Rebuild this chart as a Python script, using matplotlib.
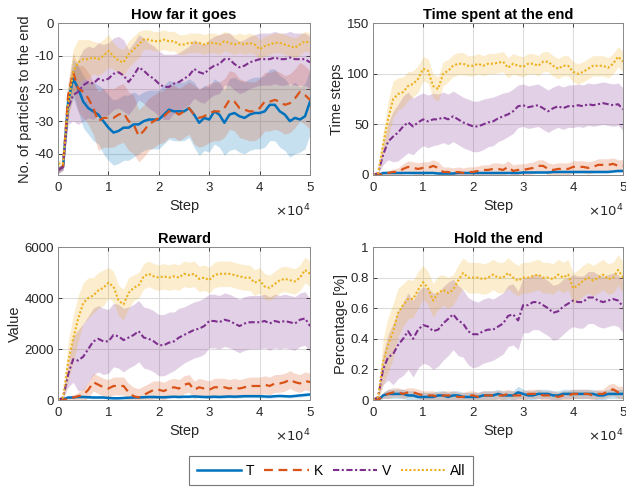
import numpy as np
import matplotlib
matplotlib.use('Agg')
import matplotlib.pyplot as plt

# ---------------- data ----------------
steps = np.arange(0, 50001, 1000)
labels = ['T', 'K', 'V', 'All']
titles = ['How far it goes', 'Time spent at the end', 'Reward', 'Hold the end']
ylabels = ['No. of particles to the end', 'Time steps', 'Value', 'Percentage [%]']

# Panel 1: How far it goes
T_far = [-45,-44,-24,-17,-20,-24,-26,-27,-28,-30, -32,-33.5,-33,-32,-32,-31,-31,-30,-29.5,-29.5,
         -29.5,-28,-26.5,-27,-27,-27,-26,-28,-30.5,-29, -29.5,-27,-28,-30.5,-28,-27.5,-28.5,-29,-28,-27.5,
         -27.5,-27,-25,-25,-27,-28,-30,-29,-29.5,-28.5, -24]
K_far = [-45,-44,-22,-15,-20,-21,-23,-26,-30,-29, -29,-29,-28,-27.5,-30,-31,-34.5,-33,-31,-30,
         -29,-28.5,-27,-27,-28,-27,-26,-28,-29,-28.5, -27.5,-27,-27,-26,-23.5,-24,-26,-26.5,-27,-27,
         -26,-24,-24,-23.5,-24,-25,-24.5,-23,-21,-22, -23.5]
V_far = [-45,-44,-26,-22,-21,-19,-18,-18.5,-17,-17.5, -17,-15.5,-15,-16,-18,-16,-13.5,-14.5,-16,-17,
         -18.5,-19.5,-19.5,-18.5,-18,-17,-16,-14,-15,-15.5, -14,-13,-12.5,-11,-11,-12.5,-13.5,-13,-12,-11.5,
         -11,-11,-11,-10.5,-11,-11,-10.5,-11,-11,-11, -12]
A_far = [-43,-43,-25,-15,-12,-11,-11,-10.5,-11,-10, -8.5,-10,-11.5,-12,-9.5,-8,-6.5,-5,-5,-5.5,
         -5.5,-5,-5.5,-5.5,-6.5,-6.5,-6,-6,-6,-6.5, -6,-6,-6.5,-5.5,-6,-6.5,-6,-6.5,-6,-6.5,
         -8,-7,-6.5,-6,-6,-6.5,-7,-7.5,-6.5,-5.5, -6]
T_far_sd = [1,1,4,6,7,8,8,9,9,10, 10,10,10,10,10,10,9,9,9,9, 9,9,9,9,9,9,9,10,10,10,
            10,10,10,10,11,11,11,11,11,11, 11,11,11,11,11,11,11,11,10,10, 10]
K_far_sd = [1,1,4,6,7,8,8,8,9,9, 9,9,9,9,9,9,8,8,8,8, 8,8,8,8,8,8,8,9,9,9,
            9,9,9,9,9,9,9,9,9,9, 9,9,9,9,9,9,9,9,9,9, 9]
V_far_sd = [1,1,5,8,10,11,11,11,11,11, 11,11,11,11,10,10,10,10,10,10, 10,10,10,9,9,9,9,9,9,9,
            9,9,9,8,8,8,8,8,8,8, 8,8,8,8,8,8,8,8,8,8, 8]
A_far_sd = [1,1,5,7,7,6,6,5,5,5, 5,4,4,4,4,4,4,3,3,3, 3,3,3,3,3,3,3,3,3,3,
            3,3,3,3,3,3,3,3,3,3, 3,3,3,3,3,3,3,3,3,3, 3]

# Panel 2: Time spent at the end
T_time = [0,0,2,2,2,2,2,2,2,2, 2,2,2,1.5,1.5,1.5,1.5,2,2,2, 2,2,2,2,2,2,2,2,2,2,
          2.5,2.5,2.5,2.5,2.5,2.5,3,3,3,3, 3,3,3,3,3,3,3,3,3.5,4, 4]
K_time = [0,0,1,2,3,3,6,8,7,6, 7,7,9,7,3,3,2,3,2,3, 3,4,5,5,6,6,5,8,4,5,
          5,6,7,9,9,6,5,6,6,6, 8,8,8,7,8,10,10,10,11,9, 9]
V_time = [0,2,20,33,38,42,48,52,48,52, 55,53,55,55,57,55,58,55,52,50, 48,48,50,52,53,56,58,60,63,68,
          69,67,68,69,66,63,66,68,66,68, 68,69,68,70,69,70,71,70,69,70, 65]
A_time = [0,2,30,55,75,80,82,88,90,95, 105,103,88,85,100,103,108,110,110,108, 108,110,108,110,110,111,112,106,110,108,
          107,110,110,108,112,112,108,105,108,108, 102,100,102,105,108,108,108,106,110,117, 112]
T_time_sd = [0,0,1,1,1,1,1,1,1,1, 1,1,1,1,1,1,1,1,1,1, 1,1,1,1,1,1,1,1,1,1,
             1,1,1,1,1,1,1,1,1,1, 1,1,1,1,1,1,1,1,1,1, 1]
K_time_sd = [0,0,1,2,3,4,5,6,6,6, 6,6,6,6,5,5,5,5,5,5, 5,5,5,5,6,6,6,6,6,6,
             6,6,6,6,6,6,6,6,6,6, 6,6,6,6,6,6,6,6,6,6, 6]
V_time_sd = [0,1,10,18,25,28,30,30,28,27, 26,26,26,25,25,25,25,25,25,25, 25,25,25,24,24,23,23,22,22,21,
             21,21,21,21,21,21,21,21,21,21, 21,21,21,21,21,21,21,21,21,21, 21]
A_time_sd = [0,1,12,18,18,16,15,14,13,13, 12,12,12,12,12,11,11,11,11,10, 10,10,10,10,10,10,10,10,10,10,
             10,10,10,10,10,10,10,10,10,10, 10,10,10,10,10,10,10,10,10,10, 10]

# Panel 3: Reward
T_rew = [0,30,100,100,120,120,110,100,100,100, 80,70,70,80,90,100,100,110,120,120, 110,110,120,130,120,130,130,140,130,120,
         120,130,120,130,140,130,140,150,150,150, 150,140,130,150,160,150,140,160,180,200, 220]
K_rew = [0,0,50,100,150,200,400,700,600,500, 450,550,550,550,300,150,100,200,300,400, 400,350,450,500,450,600,650,400,500,450,
         400,500,500,500,450,500,450,500,550,550, 550,600,550,650,650,700,800,700,650,750, 700]
V_rew = [0,100,1000,1600,1550,1700,2000,2300,2400,2300, 2300,2550,2500,2350,2450,2550,2700,2450,2400,2300,
         2150,2150,2250,2300,2450,2550,2650,2750,2800,2900, 3100,3100,3050,3150,3100,3000,2900,3000,3050,3050,
         3050,3100,3000,3100,3050,3100,3050,3000,3150,3200, 2900]
A_rew = [0,100,1500,2400,3200,3800,4000,4100,4300,4400, 4600,4450,3900,3750,4200,4400,4500,4850,4950,4850,
         4800,4850,4800,4850,4800,4950,4900,4950,4750,4800, 4700,4900,4950,4950,4950,4900,4850,4800,4800,4600,
         4700,4450,4400,4550,4700,4750,4700,4650,4800,5100, 4950]
T_rew_sd = [0,10,40,50,50,50,50,50,50,50, 50,50,50,50,50,50,50,50,50,50, 50,50,50,50,50,50,50,50,50,50,
            60,60,60,60,60,60,60,60,60,60, 60,60,60,60,60,60,60,60,60,60, 60]
K_rew_sd = [0,0,50,100,150,250,300,350,350,350, 350,350,350,350,350,350,350,350,350,350, 350,350,350,350,350,350,350,350,350,350,
            350,350,350,350,350,350,350,350,350,350, 350,350,350,350,350,350,350,350,350,350, 350]
V_rew_sd = [0,50,500,900,1200,1300,1300,1300,1300,1300, 1250,1250,1250,1250,1200,1200,1200,1200,1200,1200,
            1200,1200,1200,1150,1150,1100,1100,1100,1100,1100, 1050,1050,1050,1050,1050,1050,1050,1050,1050,1050,
            1050,1050,1050,1050,1050,1050,1050,1050,1050,1050, 1050]
A_rew_sd = [0,100,800,900,900,800,800,700,700,700, 600,600,600,600,600,500,500,500,500,500,
            500,500,500,500,500,500,500,500,500,500, 500,500,500,500,500,500,500,500,500,500,
            500,500,500,500,500,500,500,500,500,500, 500]

# Panel 4: Hold the end
T_hold = [0,0,0.03,0.04,0.04,0.04,0.04,0.03,0.03,0.02, 0.02,0.02,0.02,0.03,0.03,0.02,0.03,0.03,0.02,0.02,
          0.02,0.02,0.03,0.03,0.03,0.04,0.03,0.03,0.03,0.05, 0.04,0.03,0.03,0.04,0.04,0.04,0.03,0.03,0.04,0.04,
          0.04,0.04,0.04,0.04,0.04,0.03,0.03,0.04,0.04,0.04, 0.04]
K_hold = [0,0,0.03,0.04,0.05,0.05,0.04,0.05,0.05,0.04, 0.03,0.03,0.03,0.02,0.03,0.03,0.03,0.02,0.02,0.03,
          0.03,0.02,0.03,0.03,0.03,0.03,0.03,0.04,0.03,0.03, 0.03,0.04,0.04,0.04,0.03,0.03,0.03,0.02,0.03,0.03,
          0.04,0.04,0.04,0.04,0.03,0.04,0.04,0.06,0.07,0.05, 0.05]
V_hold = [0,0.02,0.2,0.28,0.3,0.36,0.4,0.45,0.4,0.46, 0.49,0.48,0.45,0.46,0.5,0.53,0.56,0.52,0.5,0.45,
          0.43,0.43,0.45,0.46,0.46,0.48,0.5,0.55,0.56,0.52, 0.62,0.62,0.64,0.64,0.62,0.6,0.57,0.58,0.61,0.63,
          0.65,0.64,0.64,0.67,0.67,0.65,0.64,0.65,0.66,0.65, 0.61]
A_hold = [0,0.02,0.25,0.36,0.45,0.57,0.62,0.66,0.66,0.72, 0.77,0.73,0.65,0.7,0.72,0.7,0.72,0.78,0.83,0.8,
          0.8,0.8,0.79,0.8,0.82,0.8,0.8,0.83,0.8,0.78, 0.8,0.8,0.81,0.82,0.8,0.8,0.79,0.82,0.8,0.82,
          0.73,0.75,0.78,0.8,0.78,0.8,0.82,0.79,0.8,0.85, 0.8]
T_hold_sd = [0,0,0.02,0.03,0.03,0.03,0.03,0.03,0.03,0.03, 0.03,0.03,0.03,0.03,0.03,0.03,0.03,0.03,0.03,0.03,
             0.03,0.03,0.03,0.03,0.03,0.03,0.03,0.03,0.03,0.04, 0.03,0.03,0.03,0.03,0.03,0.03,0.03,0.03,0.03,0.03,
             0.03,0.03,0.03,0.03,0.03,0.03,0.03,0.03,0.03,0.03, 0.03]
K_hold_sd = [0,0,0.02,0.03,0.03,0.03,0.03,0.03,0.03,0.03, 0.03,0.03,0.03,0.03,0.03,0.03,0.03,0.03,0.03,0.03,
             0.03,0.03,0.03,0.03,0.03,0.03,0.03,0.03,0.03,0.03, 0.03,0.03,0.03,0.03,0.03,0.03,0.03,0.03,0.03,0.03,
             0.03,0.03,0.03,0.03,0.03,0.03,0.03,0.04,0.04,0.04, 0.04]
V_hold_sd = [0,0.01,0.1,0.15,0.2,0.22,0.24,0.25,0.25,0.25, 0.25,0.25,0.25,0.24,0.24,0.24,0.23,0.23,0.22,0.22,
             0.22,0.21,0.21,0.21,0.2,0.2,0.2,0.2,0.2,0.19, 0.18,0.18,0.18,0.18,0.18,0.18,0.18,0.18,0.18,0.17,
             0.17,0.17,0.17,0.17,0.17,0.17,0.17,0.17,0.17,0.17, 0.17]
A_hold_sd = [0,0.01,0.15,0.18,0.18,0.16,0.14,0.13,0.12,0.12, 0.11,0.11,0.11,0.11,0.1,0.1,0.1,0.1,0.1,0.1,
             0.1,0.1,0.1,0.1,0.1,0.1,0.1,0.1,0.1,0.1, 0.1,0.1,0.1,0.1,0.1,0.1,0.1,0.1,0.1,0.1,
             0.1,0.1,0.1,0.1,0.1,0.1,0.1,0.1,0.1,0.1, 0.1]

panels = [
    ([T_far, K_far, V_far, A_far], [T_far_sd, K_far_sd, V_far_sd, A_far_sd]),
    ([T_time, K_time, V_time, A_time], [T_time_sd, K_time_sd, V_time_sd, A_time_sd]),
    ([T_rew, K_rew, V_rew, A_rew], [T_rew_sd, K_rew_sd, V_rew_sd, A_rew_sd]),
    ([T_hold, K_hold, V_hold, A_hold], [T_hold_sd, K_hold_sd, V_hold_sd, A_hold_sd]),
]
ylims = [(-46.5, 0), (0, 150), (0, 6000), (0, 1)]
yticks = [[-40, -30, -20, -10, 0], [0, 50, 100, 150], [0, 2000, 4000, 6000],
          [0, 0.2, 0.4, 0.6, 0.8, 1]]
yticklabels = [['-40', '-30', '-20', '-10', '0'], ['0', '50', '100', '150'],
               ['0', '2000', '4000', '6000'], ['0', '0.2', '0.4', '0.6', '0.8', '1']]
xticks = [0, 10000, 20000, 30000, 40000, 50000]
xticklabels = ['0', '1', '2', '3', '4', '5']

# ---------------- style ----------------
plt.rcParams['font.family'] = ['Liberation Sans', 'DejaVu Sans']
colors = ['#0072BD', '#D95319', '#7E2F8E', '#EDB120']
styles = [dict(linestyle='-', linewidth=1.8),
          dict(linestyle=(0, (4, 2.5)), linewidth=1.6),
          dict(linestyle=(0, (3, 1.2, 1, 1.2)), linewidth=1.5),
          dict(linestyle=(0, (1, 1)), linewidth=1.5)]

fig = plt.figure(figsize=(6.26, 4.91), dpi=100)
positions = [[0.0927, 0.6436, 0.4026, 0.309], [0.596, 0.6436, 0.3994, 0.309],
             [0.0927, 0.1853, 0.4026, 0.3116], [0.596, 0.1853, 0.3994, 0.3116]]

handles = []
for i, (pos, (means, sds)) in enumerate(zip(positions, panels)):
    ax = fig.add_axes(pos)
    for m, s, c in zip(means, sds, colors):
        m = np.asarray(m, float)
        s = np.asarray(s, float)
        assert len(m) == len(steps) and len(s) == len(steps)
        ax.fill_between(steps, m - s, m + s, color=c, alpha=0.22, linewidth=0)
    for m, c, st, lab in zip(means, colors, styles, labels):
        ln, = ax.plot(steps, m, color=c, label=lab, **st)
        if i == 0:
            handles.append(ln)
    ax.set_xlim(0, 50000)
    ax.set_ylim(*ylims[i])
    ax.set_xticks(xticks)
    ax.set_xticklabels(xticklabels)
    ax.set_yticks(yticks[i])
    ax.set_yticklabels(yticklabels[i])
    ax.grid(True, color='#dcdcdc', linewidth=0.8)
    ax.set_axisbelow(True)
    ax.tick_params(direction='in', length=3, width=0.6, labelsize=9.5,
                   colors='#262626', top=True, right=True)
    ax.tick_params(axis='x', pad=5)
    ax.tick_params(axis='y', pad=3)
    for sp in ax.spines.values():
        sp.set_color('#8a8a8a')
        sp.set_linewidth(0.7)
    ax.set_title(titles[i], fontsize=10.5, fontweight='bold', pad=3, color='black')
    ax.set_xlabel('Step', fontsize=10.5, color='#262626', labelpad=3.5)
    ax.set_ylabel(ylabels[i], fontsize=10.5, color='#262626', labelpad=2)
    ax.text(1.0, -0.235, r'$\times10^4$', transform=ax.transAxes, ha='right',
            va='center', fontsize=9.5, color='#262626')

leg = fig.legend(handles=handles, labels=labels, loc='center',
                 bbox_to_anchor=(0.529, 0.0417), ncol=4, frameon=True,
                 fancybox=False, handlelength=3.2, columnspacing=0.7,
                 handletextpad=0.35, fontsize=10, borderpad=0.55)
leg.get_frame().set_edgecolor('#555555')
leg.get_frame().set_linewidth(0.8)

fig.savefig('out.png', dpi=100)
